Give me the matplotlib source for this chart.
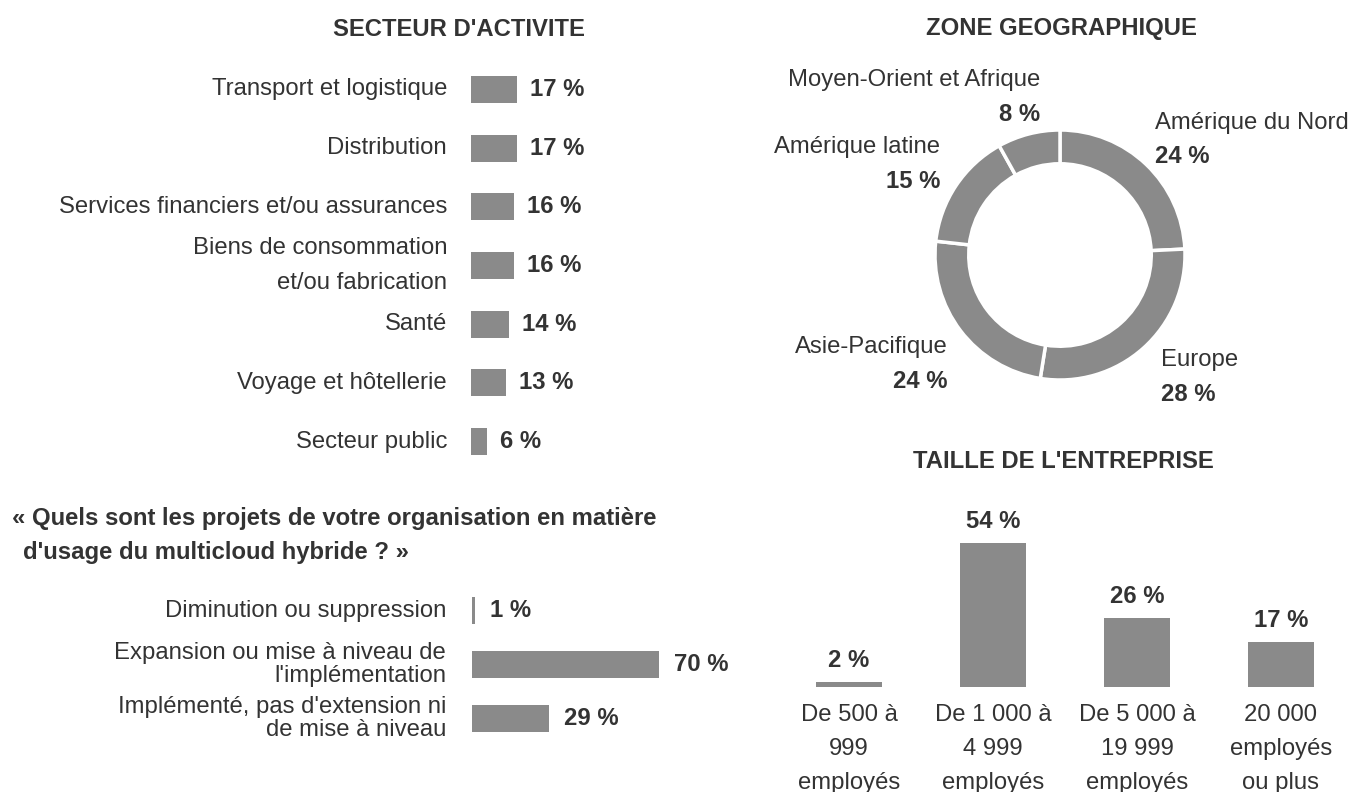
import matplotlib.pyplot as plt

plt.rcParams['font.family'] = ['Liberation Sans', 'DejaVu Sans']

# --- data ---
sector_labels = ['Transport et logistique', 'Distribution', 'Services financiers et/ou assurances',
                 'Biens de consommation\net/ou fabrication', 'Santé', 'Voyage et hôtellerie', 'Secteur public']
sector_values = [17, 17, 16, 16, 14, 13, 6]

geo_labels = ['Amérique du Nord', 'Europe', 'Asie-Pacifique', 'Amérique latine', 'Moyen-Orient et Afrique']
geo_values = [24, 28, 24, 15, 8]

plan_labels = ['Diminution ou suppression', "Expansion ou mise à niveau de\nl'implémentation",
               "Implémenté, pas d'extension ni\nde mise à niveau"]
plan_values = [1, 70, 29]

size_labels = ['De 500 à\n999\nemployés', 'De 1 000 à\n4 999\nemployés', 'De 5 000 à\n19 999\nemployés',
               '20 000\nemployés\nou plus']
size_values = [2, 54, 26, 17]

BAR = '#8a8a8a'
TXT = '#333333'
FS = 17.2

W, H = 1353, 792
fig = plt.figure(figsize=(W / 100, H / 100), dpi=100)


def px_axes(l, t, r, b):
    ax = fig.add_axes([l / W, 1 - b / H, (r - l) / W, (b - t) / H])
    ax.axis('off')
    return ax


# titles
fig.text(459 / W, 1 - 29 / H, "SECTEUR D'ACTIVITE", ha='center', va='center', fontsize=FS, weight='bold', color=TXT)
fig.text(1061 / W, 1 - 29 / H, "ZONE GEOGRAPHIQUE", ha='center', va='center', fontsize=FS, weight='bold', color=TXT)
fig.text(1063 / W, 1 - 461 / H, "TAILLE DE L'ENTREPRISE", ha='center', va='center', fontsize=FS, weight='bold', color=TXT)
fig.text(12 / W, 1 - 518 / H, "« Quels sont les projets de votre organisation en matière",
         ha='left', va='center', fontsize=FS, weight='bold', color=TXT)
fig.text(23 / W, 1 - 552 / H, "d'usage du multicloud hybride ? »",
         ha='left', va='center', fontsize=FS, weight='bold', color=TXT)

# sector bars
ax1 = px_axes(471, 60, 471 + 270, 471)
ypos = list(range(len(sector_values)))
ax1.barh(ypos, sector_values, height=0.46, color=BAR)
ax1.set_xlim(0, 100)
ax1.set_ylim(len(sector_values) - 0.5, -0.5)
for i, (lab, v) in enumerate(zip(sector_labels, sector_values)):
    ax1.annotate(lab, (0, i), xytext=(-24, 0), textcoords='offset pixels', ha='right', va='center',
                 fontsize=FS, color=TXT, linespacing=1.75, annotation_clip=False)
    ax1.annotate(f'{v} %', (v, i), xytext=(13, 0), textcoords='offset pixels', ha='left', va='center',
                 fontsize=FS, weight='bold', color=TXT, annotation_clip=False)

# plan bars
ax2 = px_axes(472, 584, 472 + 267, 745)
ypos = list(range(len(plan_values)))
ax2.barh(ypos, plan_values, height=0.5, color=BAR)
ax2.set_xlim(0, 100)
ax2.set_ylim(len(plan_values) - 0.5, -0.5)
for i, (lab, v) in enumerate(zip(plan_labels, plan_values)):
    ax2.annotate(lab, (0, i), xytext=(-26, 0), textcoords='offset pixels', ha='right', va='center',
                 fontsize=FS, color=TXT, linespacing=1.05, annotation_clip=False)
    ax2.annotate(f'{v} %', (v, i), xytext=(15, 0), textcoords='offset pixels', ha='left', va='center',
                 fontsize=FS, weight='bold', color=TXT, annotation_clip=False)

# donut
ax3 = px_axes(935, 130, 1185, 380)
ax3.pie(geo_values, startangle=90, counterclock=False, colors=[BAR] * len(geo_values),
        wedgeprops=dict(width=0.27, edgecolor='white', linewidth=2.5))
ax3.set_xlim(-1, 1)
ax3.set_ylim(-1, 1)
# label anchor (x, y in donut units) and alignment
geo_pos = [(0.76, 1.06, 'left'), (0.81, -0.84, 'left'), (-0.90, -0.74, 'right'),
           (-0.96, 0.86, 'right'), (-0.16, 1.40, 'right')]
for lab, v, (x, y, ha) in zip(geo_labels, geo_values, geo_pos):
    ax3.text(x, y, lab, ha=ha, va='center', fontsize=FS, color=TXT, clip_on=False)
    ax3.text(x, y - 0.275, f'{v} %', ha=ha, va='center', fontsize=FS, weight='bold', color=TXT, clip_on=False)

# company size bars
ax4 = px_axes(777, 527, 1353, 687)
xpos = list(range(len(size_values)))
ax4.bar(xpos, size_values, width=0.465, color=BAR)
ax4.set_xlim(-0.5, len(size_values) - 0.5)
ax4.set_ylim(0, 60)
for i, (lab, v) in enumerate(zip(size_labels, size_values)):
    ax4.annotate(f'{v} %', (i, v), xytext=(0, 21), textcoords='offset pixels', ha='center', va='center',
                 fontsize=FS, weight='bold', color=TXT, annotation_clip=False)
    ax4.annotate(lab, (i, 0), xytext=(0, -17), textcoords='offset pixels', ha='center', va='top',
                 fontsize=FS, color=TXT, linespacing=1.7, annotation_clip=False)

fig.savefig('out.png', dpi=100, facecolor='white')
